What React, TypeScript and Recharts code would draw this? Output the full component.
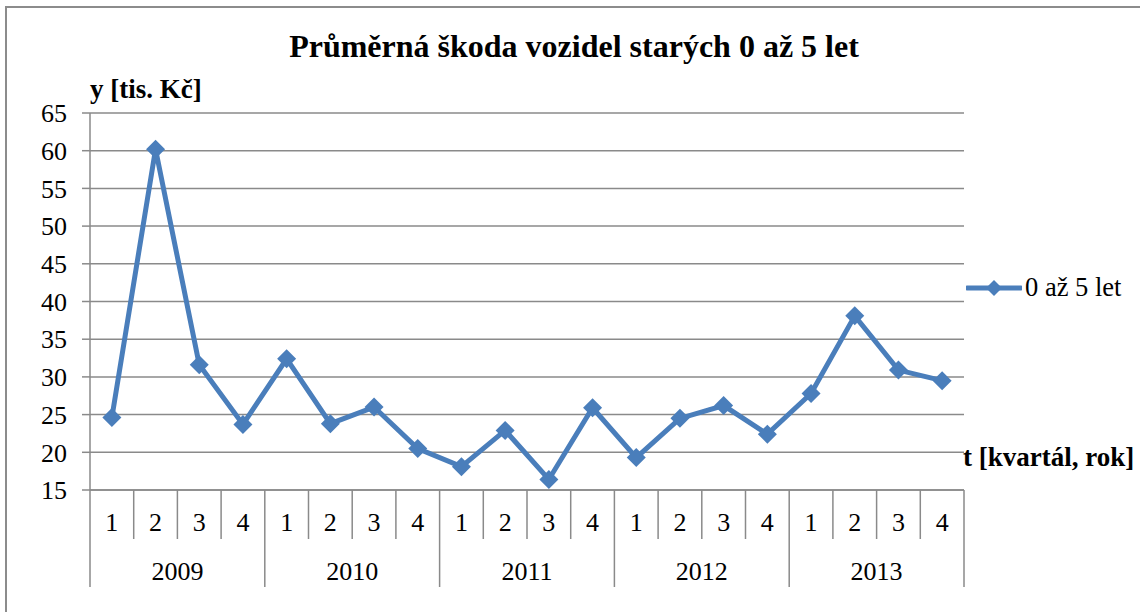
import { CartesianGrid, Legend, Line, LineChart, XAxis, YAxis } from "recharts";

const YEARS = ["2009", "2010", "2011", "2012", "2013"];
const QUARTERS = ["1", "2", "3", "4"];
const DAMAGE = [
  24.6, 60.2, 31.6, 23.7,
  32.4, 23.8, 26.0, 20.5,
  18.1, 22.9, 16.4, 25.9,
  19.3, 24.5, 26.2, 22.4,
  27.8, 38.1, 30.9, 29.5,
];
const Y_TICKS = [15, 20, 25, 30, 35, 40, 45, 50, 55, 60, 65];
const SERIES_NAME = "0 až 5 let";

const chartData = YEARS.flatMap((year, yi) =>
  QUARTERS.map((q, qi) => ({ year, q, value: DAMAGE[yi * 4 + qi] }))
);

const FONT = '"Liberation Serif", "Times New Roman", serif';
const GRID = "#8a8a8a";
const BLUE = "#4a7ebb";
// plot is 874px wide, 20 quarters -> half a category on each side
const HALF_BAND = 874 / chartData.length / 2;

function Diamond(props: any) {
  const { cx, cy } = props;
  if (cx == null || cy == null) return null;
  const r = 9.5;
  return <path d={`M${cx},${cy - r}L${cx + r},${cy}L${cx},${cy + r}L${cx - r},${cy}Z`} fill={BLUE} />;
}

function QuarterTick(props: any) {
  const { x, y, payload, index } = props;
  const count = chartData.length;
  const left = x - HALF_BAND;
  const right = x + HALF_BAND;
  const row = chartData[index];
  return (
    <g>
      <line x1={left} y1={y} x2={left} y2={y + (index % 4 === 0 ? 97 : 49)} stroke={GRID} strokeWidth={1.5} />
      {index === count - 1 && <line x1={right} y1={y} x2={right} y2={y + 97} stroke={GRID} strokeWidth={1.5} />}
      <text x={x} y={y + 41} textAnchor="middle" fontFamily={FONT} fontSize={26} fill="#000">
        {payload.value}
      </text>
      {index % 4 === 1 && row && (
        <text x={right} y={y + 90} textAnchor="middle" fontFamily={FONT} fontSize={26} fill="#000">
          {row.year}
        </text>
      )}
    </g>
  );
}

function LegendContent() {
  return (
    <div style={{ display: "flex", alignItems: "center", fontFamily: FONT, fontSize: 26.5, color: "#000" }}>
      <svg width={56} height={22}>
        <line x1={1} y1={11} x2={55} y2={11} stroke={BLUE} strokeWidth={5} strokeLinecap="round" />
        <path d="M28,3L36,11L28,19L20,11Z" fill={BLUE} />
      </svg>
      <span style={{ marginLeft: 3, whiteSpace: "nowrap" }}>{SERIES_NAME}</span>
    </div>
  );
}

export default function App() {
  return (
    <div style={{ position: "absolute", left: 0, top: 0, width: 1140, height: 612, background: "#fff", overflow: "hidden" }}>
      <div
        style={{
          position: "absolute",
          left: 5,
          top: 6,
          width: 1133,
          height: 620,
          borderLeft: "2px solid #8c8c8c",
          borderTop: "2px solid #8c8c8c",
          borderRight: "1px solid #d6d6d6",
        }}
      />
      <div style={{ position: "absolute", left: 0, top: 0 }}>
        <LineChart width={1140} height={612} data={chartData} margin={{ top: 113, right: 176, bottom: 0, left: 0 }}>
          <CartesianGrid vertical={false} stroke={GRID} strokeWidth={1.5} />
          <XAxis
            dataKey="q"
            padding={{ left: HALF_BAND, right: HALF_BAND }}
            interval={0}
            height={122}
            tickSize={0}
            tickMargin={0}
            tickLine={false}
            axisLine={{ stroke: GRID, strokeWidth: 1.5 }}
            tick={<QuarterTick />}
          />
          <YAxis
            width={90}
            domain={[15, 65]}
            ticks={Y_TICKS}
            interval={0}
            tickSize={8}
            tickMargin={15}
            axisLine={{ stroke: GRID, strokeWidth: 1.5 }}
            tickLine={{ stroke: GRID, strokeWidth: 1.5 }}
            tick={{ fontFamily: FONT, fontSize: 26, fill: "#000" }}
          />
          <Legend
            layout="horizontal"
            align="center"
            verticalAlign="middle"
            content={<LegendContent />}
            wrapperStyle={{ position: "absolute", left: 966, top: 272, width: 172, height: 30 }}
          />
          <Line
            type="linear"
            dataKey="value"
            name={SERIES_NAME}
            stroke={BLUE}
            strokeWidth={5}
            dot={<Diamond />}
            activeDot={false}
            isAnimationActive={false}
          />
        </LineChart>
      </div>
      <div
        style={{
          position: "absolute",
          left: 0,
          width: 1148,
          top: 28,
          textAlign: "center",
          fontFamily: FONT,
          fontWeight: "bold",
          fontSize: 32,
          lineHeight: "36px",
          whiteSpace: "nowrap",
        }}
      >
        Průměrná škoda vozidel starých 0 až 5 let
      </div>
      <div
        style={{
          position: "absolute",
          left: 90,
          top: 74,
          fontFamily: FONT,
          fontWeight: "bold",
          fontSize: 27,
          lineHeight: "30px",
          whiteSpace: "nowrap",
        }}
      >
        y [tis. Kč]
      </div>
      <div
        style={{
          position: "absolute",
          left: 963,
          top: 442,
          fontFamily: FONT,
          fontWeight: "bold",
          fontSize: 27,
          lineHeight: "30px",
          whiteSpace: "nowrap",
        }}
      >
        t [kvartál, rok]
      </div>
    </div>
  );
}
